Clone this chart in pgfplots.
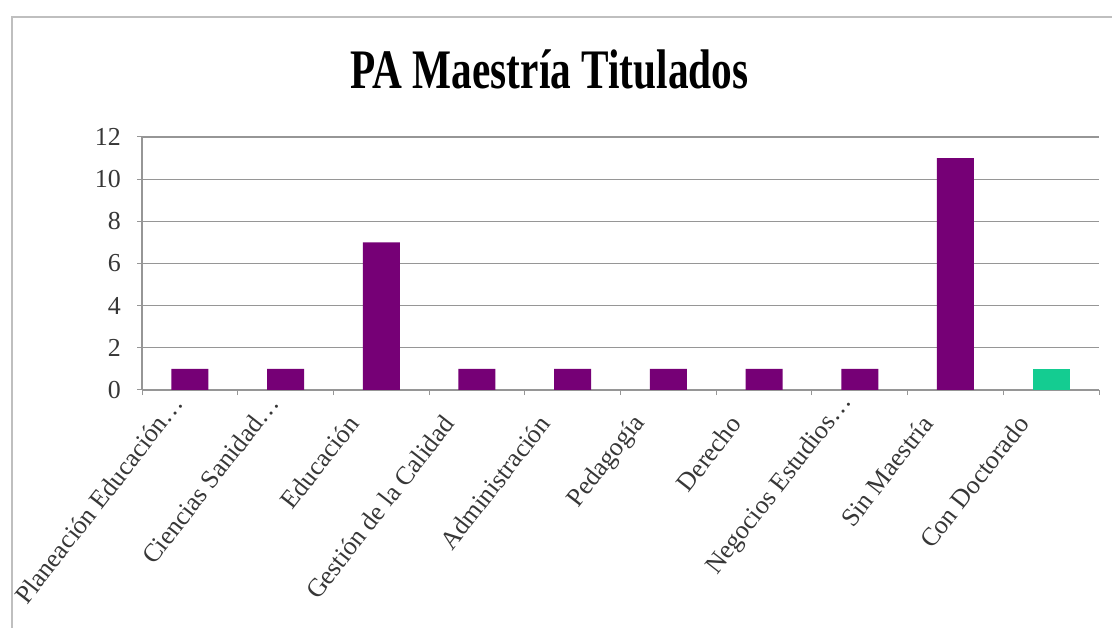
\documentclass[border=0pt]{standalone}
\usepackage{pgfplots}
\pgfplotsset{compat=1.18}
\usepackage{fontspec}
\setmainfont{Liberation Serif}
\definecolor{barpurple}{RGB}{118,0,118}
\definecolor{bargreen}{RGB}{20,204,145}
\definecolor{gridgray}{RGB}{150,150,150}
\definecolor{labgray}{RGB}{55,55,55}
\begin{document}
\begin{tikzpicture}
\useasboundingbox (0,0) rectangle (1112bp,628bp);
\fill[white] (0,0) rectangle (1112bp,628bp);
\draw[gray!50, line width=1.5bp] (12bp,-5bp) -- (12bp,611bp) -- (1120bp,611bp);
\node[font=\fontsize{56}{60}\selectfont\bfseries, anchor=base, inner sep=0pt] at (549.5bp,539bp) {\scalebox{0.74}[1]{PA Maestría Titulados}};
\begin{axis}[
  at={(142bp,238bp)}, anchor=south west,
  scale only axis, width=957bp, height=253bp,
  xmin=-0.5, xmax=9.5, ymin=0, ymax=12,
  axis x line=bottom, axis y line=left,
  axis line style={gridgray, line width=1.2bp, -},
  ytick={0,2,...,12}, ymajorgrids,
  grid style={gridgray, line width=1.2bp},
  tick align=outside, major tick length=5bp,
  tick style={gridgray, line width=1bp},
  xtick={-0.5,0.5,...,9.5},
  xticklabels={},
  extra x ticks={0,...,9},
  extra x tick labels={Planeación Educación\rlap{…}, Ciencias Sanidad\rlap{…}, Educación, Gestión de la Calidad, Administración, Pedagogía, Derecho, Negocios Estudios\rlap{…}, Sin Maestría, Con Doctorado},
  extra x tick style={major tick length=0pt, grid=none},
  /pgf/number format/assume math mode=true,
  yticklabel style={font=\fontsize{26}{28}\selectfont, text=labgray, inner sep=0pt, xshift=-16bp},
  xticklabel style={font=\fontsize{26}{28}\selectfont, text=labgray, inner sep=0pt, xshift=-28bp, yshift=-29bp, rotate=52, anchor=east},
]
\addplot[ybar, bar width=37bp, bar shift=0pt, fill=barpurple, draw=none]
  coordinates {(0,1) (1,1) (2,7) (3,1) (4,1) (5,1) (6,1) (7,1) (8,11)};
\addplot[ybar, bar width=37bp, bar shift=0pt, fill=bargreen, draw=none]
  coordinates {(9,1)};
\end{axis}
\end{tikzpicture}
\end{document}
